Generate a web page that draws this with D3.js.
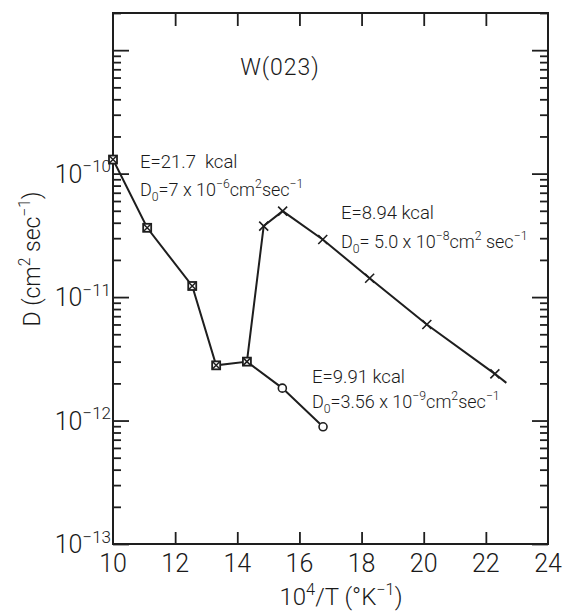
<!DOCTYPE html>
<html><head><meta charset="utf-8">
<script src="https://cdn.jsdelivr.net/npm/d3@7"></script>
<style>
body{margin:0;background:#fff}
text{font-family:Roboto,"DejaVu Sans",sans-serif;font-weight:300;fill:#1a1a1a;white-space:pre}
</style>
</head><body><script>
// ---- data ----
const squareX = [10.0, 11.1, 12.55, 13.32, 14.31];
const squareD = [1.3e-10, 3.64e-11, 1.23e-11, 2.8e-12, 3.0e-12];
const crossX  = [14.85, 15.46, 16.75, 18.26, 20.1, 22.29];
const crossD  = [3.76e-11, 4.97e-11, 2.93e-11, 1.42e-11, 6.0e-12, 2.39e-12];
const fitEndX = [22.66];
const fitEndD = [2.02e-12];
const circleX = [15.45, 16.76];
const circleD = [1.83e-12, 8.9e-13];
const xTicks  = [10, 12, 14, 16, 18, 20, 22, 24];
const yLabelExps = [-13, -12, -11, -10];
const title = "W(023)";
const ann1 = [[["E=21.7  kcal"]], [["D"],["0","sub"],["=7 x 10"],["−6","sup"],["cm"],["2","sup"],["sec"],["−1","sup"]]];
const ann2 = [[["E=8.94 kcal"]], [["D"],["0","sub"],["= 5.0 x 10"],["−8","sup"],["cm"],["2","sup"],[" sec"],["−1","sup"]]];
const ann3 = [[["E=9.91 kcal"]], [["D"],["0","sub"],["=3.56 x 10"],["−9","sup"],["cm"],["2","sup"],["sec"],["−1","sup"]]];

const W = 566, H = 613;
const svg = d3.select("body").append("svg").attr("width", W).attr("height", H);
const x = d3.scaleLinear().domain([10, 24]).range([113, 548]);
const y = d3.scaleLog().domain([1e-13, 2e-9]).range([544, 13]);
const ink = "#1e1e1e";

// frame
svg.append("rect").attr("x", x(10)).attr("y", y(2e-9)).attr("width", x(24) - x(10)).attr("height", y(1e-13) - y(2e-9))
  .attr("fill", "none").attr("stroke", ink).attr("stroke-width", 2);

// y ticks
const majors = [-13, -12, -11, -10, -9].map(e => Math.pow(10, e));
const minors = [];
for (let e = -13; e <= -9; e++) for (let m = 2; m <= 9; m++) { const v = m * Math.pow(10, e); if (v <= 2e-9) minors.push(v); }
function yAxes(gen, xpos, major, minor) {
  const g1 = svg.append("g").attr("transform", `translate(${xpos},0)`)
    .call(gen(y).tickValues(majors).tickSize(major).tickFormat(""));
  const g2 = svg.append("g").attr("transform", `translate(${xpos},0)`)
    .call(gen(y).tickValues(minors).tickSize(minor).tickFormat(""));
  [g1, g2].forEach(g => { g.select(".domain").remove(); g.selectAll("line").attr("stroke", ink).attr("stroke-width", 1.8); });
}
yAxes(d3.axisRight, x(10), 16, 8);
yAxes(d3.axisLeft, x(24), 16, 8);

// x ticks
const inner = xTicks.filter(v => v > 10 && v < 24);
[[d3.axisTop, y(1e-13), 12], [d3.axisBottom, y(2e-9), 13]].forEach(([gen, ypos, len]) => {
  const g = svg.append("g").attr("transform", `translate(0,${ypos})`)
    .call(gen(x).tickValues(inner).tickSize(len).tickFormat(""));
  g.select(".domain").remove();
  g.selectAll("line").attr("stroke", ink).attr("stroke-width", 1.8);
});

// rich text helper
function rich(parent, parts, px, py, size, anchor) {
  const t = parent.append("text").attr("x", px).attr("y", py).attr("font-size", size).attr("text-anchor", anchor || "start");
  let cur = 0;
  parts.forEach(([s, kind]) => {
    const off = kind === "sup" ? -size * 0.42 : kind === "sub" ? size * 0.28 : 0;
    const ts = t.append("tspan").attr("dy", off - cur).text(s);
    if (kind) ts.attr("font-size", size * 0.68);
    cur = off;
  });
  return t;
}

// x tick labels
xTicks.forEach(v => svg.append("text").attr("x", x(v)).attr("y", 572).attr("font-size", 25)
  .attr("text-anchor", "middle").text(String(v)));
// y tick labels
yLabelExps.forEach(e => rich(svg, [["10"], ["−" + Math.abs(e), "sup"]], 111, y(Math.pow(10, e)) + 9, 25, "end"));

// axis titles
rich(svg, [["10"], ["4", "sup"], ["/T (°K"], ["−1", "sup"], [")"]], 341, 605, 24, "middle");
const yt = svg.append("g").attr("transform", `translate(40,259) rotate(-90)`);
rich(yt, [["D (cm"], ["2", "sup"], [" sec"], ["−1", "sup"], [")"]], 0, 0, 23, "middle");

// title
svg.append("text").attr("x", 280).attr("y", 75).attr("font-size", 23).attr("text-anchor", "middle")
  .attr("letter-spacing", 1).text(title);

// annotations
function ann(lines, px, py1, py2) {
  rich(svg, lines[0], px, py1, 18.5);
  rich(svg, lines[1], px, py2, 18);
}
ann(ann1, 140, 168, 196);
ann(ann2, 341, 219, 248);
ann(ann3, 312, 383, 408);

// lines
const line = d3.line().x(d => x(d[0])).y(d => y(d[1]));
const mainPts = squareX.map((v, i) => [v, squareD[i]])
  .concat(crossX.map((v, i) => [v, crossD[i]]))
  .concat(fitEndX.map((v, i) => [v, fitEndD[i]]));
const branchPts = [[squareX[squareX.length - 1], squareD[squareD.length - 1]]]
  .concat(circleX.map((v, i) => [v, circleD[i]]));
[mainPts, branchPts].forEach(p => svg.append("path").attr("d", line(p)).attr("fill", "none")
  .attr("stroke", ink).attr("stroke-width", 2));

// markers
squareX.forEach((v, i) => {
  const cx = x(v), cy = y(squareD[i]), s = 4;
  const g = svg.append("g");
  g.append("rect").attr("x", cx - s).attr("y", cy - s).attr("width", 2 * s).attr("height", 2 * s)
    .attr("fill", "#fff").attr("stroke", ink).attr("stroke-width", 1.8);
  g.append("path").attr("d", `M${cx - s},${cy - s}L${cx + s},${cy + s}M${cx + s},${cy - s}L${cx - s},${cy + s}`)
    .attr("stroke", ink).attr("stroke-width", 1.5);
});
crossX.forEach((v, i) => {
  const cx = x(v), cy = y(crossD[i]), s = 4.5;
  svg.append("path").attr("d", `M${cx - s},${cy - s}L${cx + s},${cy + s}M${cx + s},${cy - s}L${cx - s},${cy + s}`)
    .attr("stroke", ink).attr("stroke-width", 1.6);
});
circleX.forEach((v, i) => {
  svg.append("circle").attr("cx", x(v)).attr("cy", y(circleD[i])).attr("r", 4)
    .attr("fill", "#fff").attr("stroke", ink).attr("stroke-width", 1.6);
});
</script></body></html>
